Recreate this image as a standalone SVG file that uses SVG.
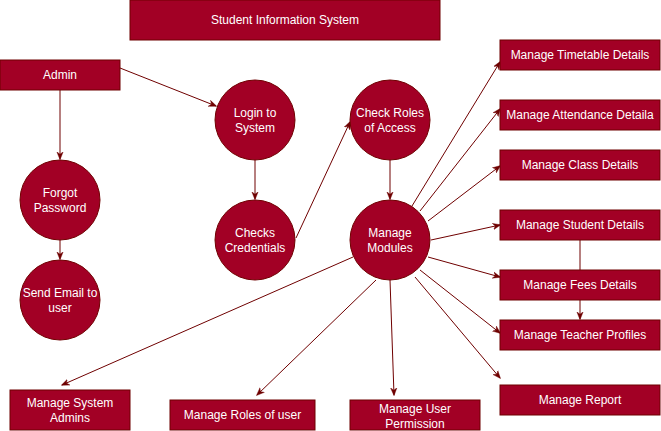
<svg xmlns="http://www.w3.org/2000/svg" width="661" height="431" viewBox="0 0 661 431">
<style>
.n{fill:#a20025;stroke:#6f0000;stroke-width:1}
.t{fill:#ffffff;font-family:"Liberation Sans",Arial,sans-serif;font-size:12px;text-anchor:middle;dominant-baseline:central}
.e{fill:none;stroke:#6f0000;stroke-width:1;marker-end:url(#a)}
</style>
<defs>
<marker id="a" viewBox="0 0 10 10" refX="9" refY="5" markerWidth="8" markerHeight="8" markerUnits="userSpaceOnUse" orient="auto">
<path d="M0,1 L10,5 L0,9 L3,5 Z" fill="#6f0000" stroke="#6f0000" stroke-width="0.5"/>
</marker>
</defs>
<rect width="661" height="431" fill="#ffffff"/>
<g id="connectors">
<path class="e" d="M120,68 L216,106"/>
<path class="e" d="M60,90 L60,159"/>
<path class="e" d="M60,240 L60,259"/>
<path class="e" d="M255,160 L255,199"/>
<path class="e" d="M296,238 L350,122"/>
<path class="e" d="M390,160 L390,199"/>
<path class="e" d="M412,206 L500,62"/>
<path class="e" d="M420,211 L500,109"/>
<path class="e" d="M428,221 L500,166"/>
<path class="e" d="M431,240 L500,225"/>
<path class="e" d="M428,257 L500,277"/>
<path class="e" d="M420,270 L500,333"/>
<path class="e" d="M415,277 L500,378"/>
<path class="e" d="M390,280 L394,395"/>
<path class="e" d="M376,280 L257,395"/>
<path class="e" d="M353,257 L62,385"/>
<path class="e" d="M580,240 L580,319"/>
</g>
<g id="title"><rect class="n" x="130" y="0" width="310" height="40"/><text class="t" x="285" y="20">Student Information System</text></g>
<g id="admin"><rect class="n" x="0" y="60" width="120" height="30"/><text class="t" x="60" y="75">Admin</text></g>
<g id="forgot"><circle class="n" cx="60" cy="200" r="40"/><text class="t" x="60" y="193">Forgot</text><text class="t" x="60" y="208">Password</text></g>
<g id="sendemail"><circle class="n" cx="60" cy="300" r="40"/><text class="t" x="60" y="293">Send Email to</text><text class="t" x="60" y="308">user</text></g>
<g id="login"><circle class="n" cx="255" cy="120" r="40"/><text class="t" x="255" y="113">Login to</text><text class="t" x="255" y="128">System</text></g>
<g id="checks"><circle class="n" cx="255" cy="240" r="40"/><text class="t" x="255" y="233">Checks</text><text class="t" x="255" y="248">Credentials</text></g>
<g id="roles"><circle class="n" cx="390" cy="120" r="40"/><text class="t" x="390" y="113">Check Roles</text><text class="t" x="390" y="128">of Access</text></g>
<g id="modules"><circle class="n" cx="390" cy="240" r="40"/><text class="t" x="390" y="233">Manage</text><text class="t" x="390" y="248">Modules</text></g>
<g id="timetable"><rect class="n" x="500" y="40" width="160" height="30"/><text class="t" x="580" y="55">Manage Timetable Details</text></g>
<g id="attendance"><rect class="n" x="500" y="100" width="160" height="30"/><text class="t" x="580" y="115">Manage Attendance Detaila</text></g>
<g id="class"><rect class="n" x="500" y="150" width="160" height="30"/><text class="t" x="580" y="165">Manage Class Details</text></g>
<g id="student"><rect class="n" x="500" y="210" width="160" height="30"/><text class="t" x="580" y="225">Manage Student Details</text></g>
<g id="fees"><rect class="n" x="500" y="270" width="160" height="30"/><text class="t" x="580" y="285">Manage Fees Details</text></g>
<g id="teacher"><rect class="n" x="500" y="320" width="160" height="30"/><text class="t" x="580" y="335">Manage Teacher Profiles</text></g>
<g id="report"><rect class="n" x="500" y="385" width="160" height="30"/><text class="t" x="580" y="400">Manage Report</text></g>
<g id="permission"><rect class="n" x="350" y="400" width="130" height="30"/><text class="t" x="415" y="409">Manage User</text><text class="t" x="415" y="424">Permission</text></g>
<g id="sysadmins"><rect class="n" x="10" y="390" width="120" height="40"/><text class="t" x="70" y="403">Manage System</text><text class="t" x="70" y="418">Admins</text></g>
<g id="userroles"><rect class="n" x="170" y="400" width="145" height="30"/><text class="t" x="242.5" y="415">Manage Roles of user</text></g>
</svg>
